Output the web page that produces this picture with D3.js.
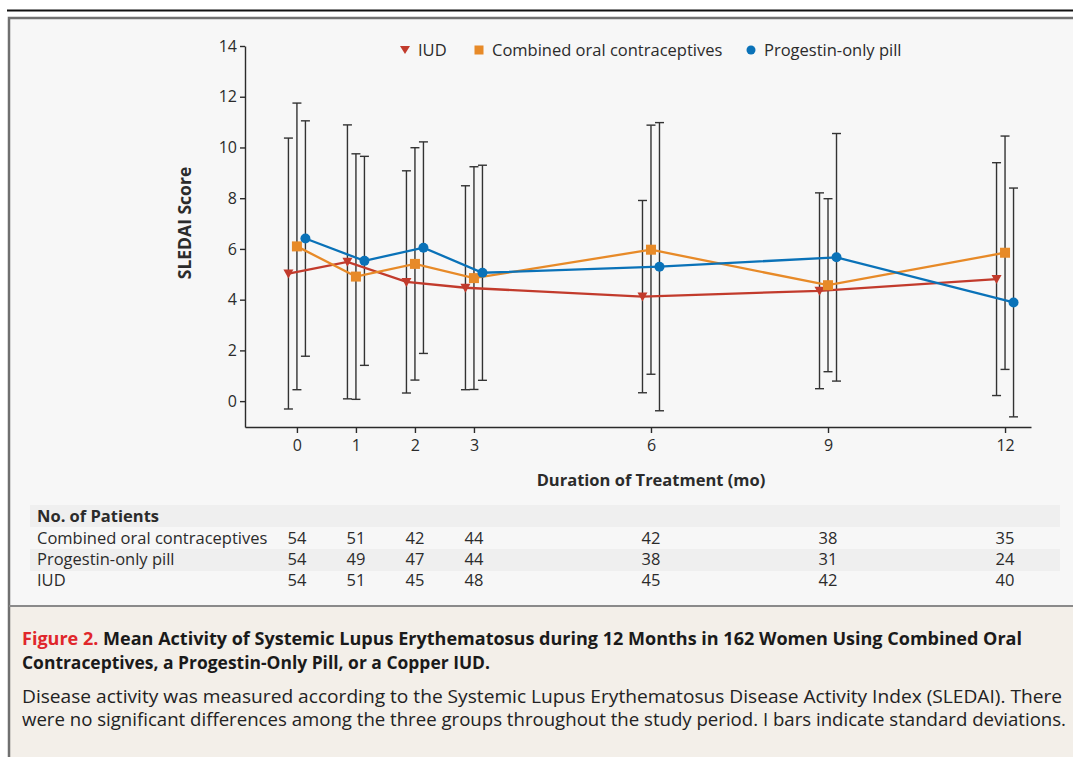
<!DOCTYPE html>
<html>
<head>
<meta charset="utf-8">
<script src="https://cdn.jsdelivr.net/npm/d3@7"></script>
<style>
  body { margin: 0; background: #fff; }
  svg { display: block; font-family: "Open Sans", sans-serif; }
</style>
</head>
<body>
<svg id="chart" width="1073" height="757"></svg>
<script>
// months of treatment
const months = [0, 1, 2, 3, 6, 9, 12];

// mean SLEDAI score and SD per group
const iudMean = [5.03, 5.49, 4.70, 4.47, 4.12, 4.35, 4.81];
const iudSd   = [5.34, 5.40, 4.38, 4.02, 3.79, 3.86, 4.59];
const cocMean = [6.10, 4.91, 5.41, 4.85, 5.97, 4.57, 5.85];
const cocSd   = [5.65, 4.84, 4.58, 4.39, 4.91, 3.41, 4.60];
const popMean = [6.41, 5.53, 6.05, 5.06, 5.30, 5.67, 3.89];
const popSd   = [4.64, 4.12, 4.17, 4.24, 5.68, 4.88, 4.51];

// number of patients
const cocN = [54, 51, 42, 44, 42, 38, 35];
const popN = [54, 49, 47, 44, 38, 31, 24];
const iudN = [54, 51, 45, 48, 45, 42, 40];

const yTicks = [0, 2, 4, 6, 8, 10, 12, 14];

const series = [
  { name: "IUD", mean: iudMean, sd: iudSd, color: "#c23b2c", shape: "tri", dx: -8.5 },
  { name: "Combined oral contraceptives", mean: cocMean, sd: cocSd, color: "#e78a28", shape: "sq", dx: 0 },
  { name: "Progestin-only pill", mean: popMean, sd: popSd, color: "#0a72b8", shape: "dot", dx: 8.5 }
];

const svg = d3.select("#chart");
const ink = "#2b2b2b";

// frame
svg.append("rect").attr("x", 0).attr("y", 0).attr("width", 1073).attr("height", 757).attr("fill", "#fff");
svg.append("line").attr("x1", 7).attr("x2", 1073).attr("y1", 10.5).attr("y2", 10.5)
  .attr("stroke", "#111").attr("stroke-width", 2);
svg.append("rect").attr("x", 9).attr("y", 18).attr("width", 1080).attr("height", 588)
  .attr("fill", "#f7f7f7");
svg.append("rect").attr("x", 9).attr("y", 606).attr("width", 1080).attr("height", 160)
  .attr("fill", "#f3efe9");
svg.append("path").attr("d", "M9,770V18H1080").attr("fill", "none")
  .attr("stroke", "#707070").attr("stroke-width", 2.5);
svg.append("line").attr("x1", 9).attr("x2", 1080).attr("y1", 606).attr("y2", 606)
  .attr("stroke", "#8a8a8a").attr("stroke-width", 2);

const x = d3.scaleLinear().domain([-0.88, 12.44]).range([245, 1031]);
const y = d3.scaleLinear().domain([-1.02, 14]).range([427, 46]);

// axes
const yAxis = svg.append("g").attr("transform", "translate(245,0)")
  .call(d3.axisLeft(y).tickValues(yTicks).tickSize(5).tickSizeOuter(0).tickPadding(3));
const xAxis = svg.append("g").attr("transform", "translate(0,427)")
  .call(d3.axisBottom(x).tickValues(months).tickSize(6).tickSizeOuter(0).tickPadding(7));
[yAxis, xAxis].forEach(g => {
  g.selectAll("path, line").attr("stroke", ink).attr("stroke-width", 1.4);
  g.selectAll("text").attr("fill", ink).style("font-size", "16px").style("font-family", "Open Sans, sans-serif");
});

svg.append("text")
  .attr("transform", "translate(191,223) rotate(-90)")
  .attr("text-anchor", "middle")
  .style("font-size", "17.5px").style("font-weight", "bold").attr("fill", ink)
  .text("SLEDAI Score");
svg.append("text")
  .attr("x", 651).attr("y", 486)
  .attr("text-anchor", "middle")
  .style("font-size", "16.5px").style("font-weight", "bold").attr("fill", ink)
  .text("Duration of Treatment (mo)");

// error bars
series.forEach(s => {
  const g = svg.append("g").attr("stroke", "#333").attr("stroke-width", 1.4);
  months.forEach((m, i) => {
    const cx = x(m) + s.dx;
    const lo = y(s.mean[i] - s.sd[i]), hi = y(s.mean[i] + s.sd[i]);
    g.append("line").attr("x1", cx).attr("x2", cx).attr("y1", lo).attr("y2", hi);
    g.append("line").attr("x1", cx - 4.5).attr("x2", cx + 4.5).attr("y1", lo).attr("y2", lo);
    g.append("line").attr("x1", cx - 4.5).attr("x2", cx + 4.5).attr("y1", hi).attr("y2", hi);
  });
});

// lines
const line = d3.line();
series.forEach(s => {
  svg.append("path")
    .attr("d", line(months.map((m, i) => [x(m) + s.dx, y(s.mean[i])])))
    .attr("fill", "none").attr("stroke", s.color).attr("stroke-width", 2.3);
});

function marker(g, shape, color, cx, cy) {
  if (shape === "tri") {
    g.append("path").attr("d", `M${cx - 5},${cy - 4}L${cx + 5},${cy - 4}L${cx},${cy + 5}Z`).attr("fill", color);
  } else if (shape === "sq") {
    g.append("rect").attr("x", cx - 5).attr("y", cy - 5).attr("width", 10).attr("height", 10).attr("fill", color);
  } else {
    g.append("circle").attr("cx", cx).attr("cy", cy).attr("r", 5).attr("fill", color);
  }
}

series.forEach(s => {
  const g = svg.append("g");
  months.forEach((m, i) => marker(g, s.shape, s.color, x(m) + s.dx, y(s.mean[i])));
});

// legend
const legendX = [405, 479, 751];
series.forEach((s, i) => {
  const g = svg.append("g");
  const lx = legendX[i];
  if (s.shape === "tri") {
    g.append("path").attr("d", `M${lx - 5},46L${lx + 5},46L${lx},54Z`).attr("fill", s.color);
  } else if (s.shape === "sq") {
    g.append("rect").attr("x", lx - 4.5).attr("y", 45.5).attr("width", 9).attr("height", 9).attr("fill", s.color);
  } else {
    g.append("circle").attr("cx", lx).attr("cy", 50).attr("r", 4.5).attr("fill", s.color);
  }
  g.append("text").attr("x", lx + 13).attr("y", 50).attr("dy", "0.35em")
    .style("font-size", "16.5px").attr("fill", ink).text(s.name);
});

// patient table
const rows = [
  { label: "Combined oral contraceptives", n: cocN },
  { label: "Progestin-only pill", n: popN },
  { label: "IUD", n: iudN }
];
svg.append("rect").attr("x", 30).attr("y", 505).attr("width", 1030).attr("height", 22).attr("fill", "#efefef");
svg.append("rect").attr("x", 30).attr("y", 549).attr("width", 1030).attr("height", 22).attr("fill", "#efefef");
svg.append("text").attr("x", 37).attr("y", 516).attr("dy", "0.35em")
  .style("font-size", "16.5px").style("font-weight", "bold").attr("fill", ink).text("No. of Patients");
rows.forEach((r, j) => {
  const cy = 538 + j * 21.2;
  svg.append("text").attr("x", 37).attr("y", cy).attr("dy", "0.35em")
    .style("font-size", "16.5px").attr("fill", ink).text(r.label);
  svg.selectAll(null).data(r.n).enter().append("text")
    .attr("x", (d, i) => x(months[i])).attr("y", cy).attr("dy", "0.35em")
    .attr("text-anchor", "middle").style("font-size", "16.5px").attr("fill", ink)
    .text(d => d);
});

// caption (justified lines fitted to their width in the original)
const cap1 = svg.append("text").attr("x", 22).attr("y", 639).attr("dy", "0.35em")
  .attr("textLength", 1000).attr("lengthAdjust", "spacingAndGlyphs")
  .style("font-size", "17.5px").style("font-weight", "bold").attr("fill", "#1a1a1a");
cap1.append("tspan").attr("fill", "#e0262b").text("Figure 2. ");
cap1.append("tspan").text("Mean Activity of Systemic Lupus Erythematosus during 12 Months in 162 Women Using Combined Oral");
svg.append("text").attr("x", 22).attr("y", 663).attr("dy", "0.35em")
  .attr("textLength", 468).attr("lengthAdjust", "spacingAndGlyphs")
  .style("font-size", "17.5px").style("font-weight", "bold").attr("fill", "#1a1a1a")
  .text("Contraceptives, a Progestin-Only Pill, or a Copper IUD.");
svg.append("text").attr("x", 22).attr("y", 697).attr("dy", "0.35em")
  .attr("textLength", 1040).attr("lengthAdjust", "spacingAndGlyphs")
  .style("font-size", "18px").attr("fill", "#222")
  .text("Disease activity was measured according to the Systemic Lupus Erythematosus Disease Activity Index (SLEDAI). There");
svg.append("text").attr("x", 22).attr("y", 720).attr("dy", "0.35em")
  .attr("textLength", 1044).attr("lengthAdjust", "spacingAndGlyphs")
  .style("font-size", "18px").attr("fill", "#222")
  .text("were no significant differences among the three groups throughout the study period. I bars indicate standard deviations.");
</script>
</body>
</html>
